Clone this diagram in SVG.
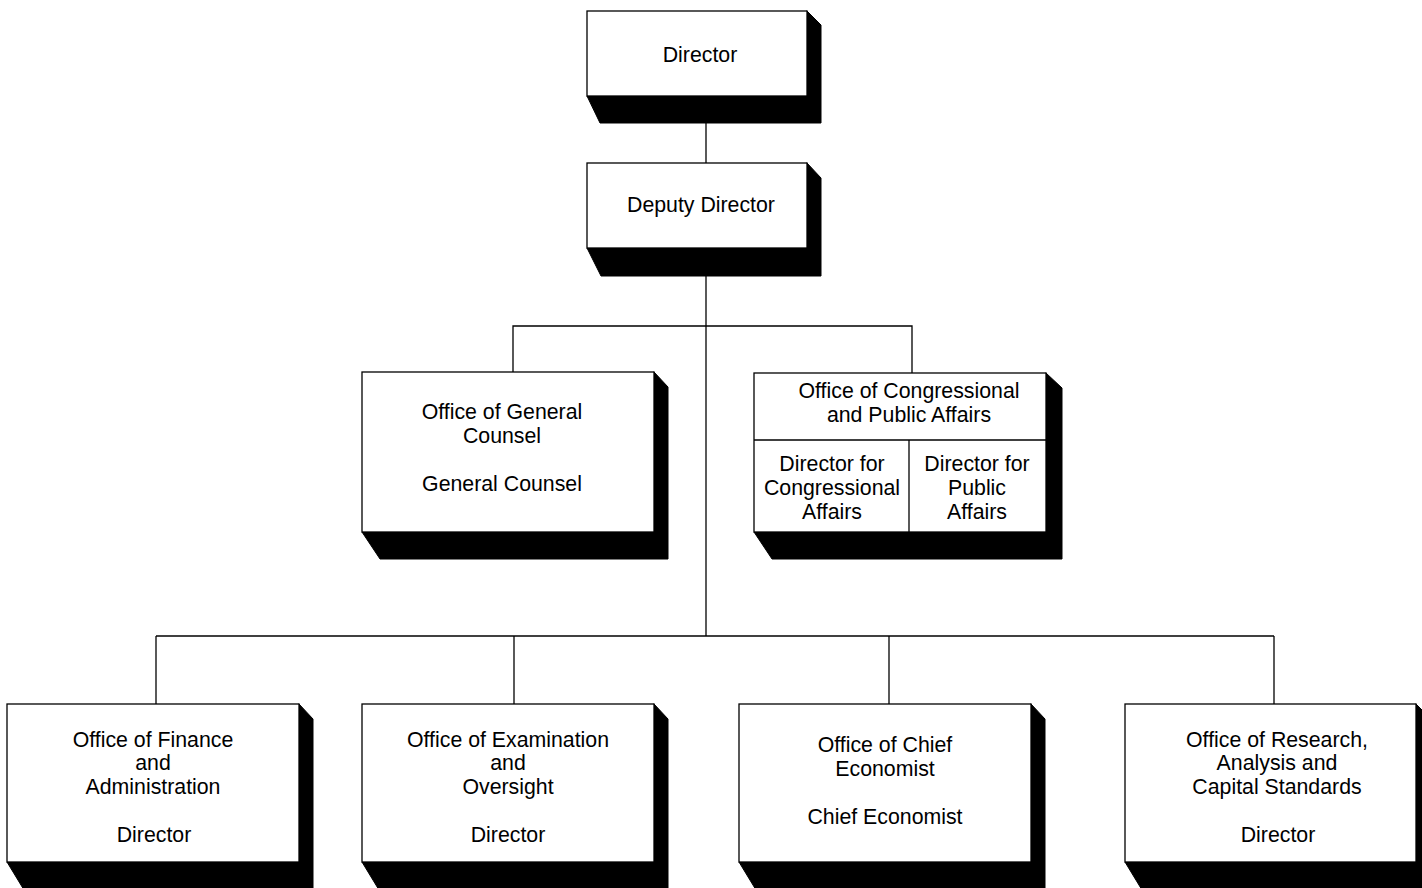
<svg xmlns="http://www.w3.org/2000/svg" width="1422" height="888" viewBox="0 0 1422 888">
<style>
.box{fill:#fff;stroke:#000;stroke-width:1.3}
.sh{fill:#000;stroke:#000;stroke-width:1}
.ln{stroke:#000;stroke-width:1.3;fill:none}
text{font-family:"Liberation Sans",Arial,sans-serif;font-size:21.3px;fill:#000;text-anchor:middle}
</style>
<rect width="1422" height="888" fill="#fff"/>
<g id="connectors">
<line class="ln" x1="706" y1="123" x2="706" y2="163"/>
<line class="ln" x1="706" y1="276" x2="706" y2="636"/>
<polyline class="ln" points="513,372 513,326 912,326 912,373"/>
<line class="ln" x1="156" y1="636" x2="1274" y2="636"/>
<line class="ln" x1="156" y1="636" x2="156" y2="704"/>
<line class="ln" x1="514" y1="636" x2="514" y2="704"/>
<line class="ln" x1="889" y1="636" x2="889" y2="704"/>
<line class="ln" x1="1274" y1="636" x2="1274" y2="704"/>
</g>
<g id="director">
<polygon class="sh" points="807,11 821,25 821,123 600,123 587,96"/>
<rect class="box" x="587" y="11" width="220" height="85"/>
<text x="700" y="61.5">Director</text>
</g>
<g id="deputy">
<polygon class="sh" points="807,163 821,178 821,276 601,276 587,248"/>
<rect class="box" x="587" y="163" width="220" height="85"/>
<text x="701" y="211.5">Deputy Director</text>
</g>
<g id="general-counsel">
<polygon class="sh" points="654,372 668,387 668,559 380,559 362,532"/>
<rect class="box" x="362" y="372" width="292" height="160"/>
<text x="502" y="419">Office of General</text>
<text x="502" y="443">Counsel</text>
<text x="502" y="491">General Counsel</text>
</g>
<g id="congressional">
<polygon class="sh" points="1046,373 1062,388 1062,559 772,559 754,532"/>
<rect class="box" x="754" y="373" width="292" height="159"/>
<line class="ln" x1="754" y1="440" x2="1046" y2="440"/>
<line class="ln" x1="909" y1="440" x2="909" y2="532"/>
<text x="909" y="398">Office of Congressional</text>
<text x="909" y="422">and Public Affairs</text>
<text x="832" y="471">Director for</text>
<text x="832" y="495">Congressional</text>
<text x="832" y="519">Affairs</text>
<text x="977" y="471">Director for</text>
<text x="977" y="495">Public</text>
<text x="977" y="519">Affairs</text>
</g>
<g id="finance">
<polygon class="sh" points="299,704 313,719 313,890 24,890 7,862"/>
<rect class="box" x="7" y="704" width="292" height="158"/>
<text x="153" y="747">Office of Finance</text>
<text x="153" y="770">and</text>
<text x="153" y="794">Administration</text>
<text x="154" y="842">Director</text>
</g>
<g id="examination">
<polygon class="sh" points="654,704 668,719 668,890 379,890 362,862"/>
<rect class="box" x="362" y="704" width="292" height="158"/>
<text x="508" y="747">Office of Examination</text>
<text x="508" y="770">and</text>
<text x="508" y="794">Oversight</text>
<text x="508" y="842">Director</text>
</g>
<g id="economist">
<polygon class="sh" points="1031,704 1045,719 1045,890 756,890 739,862"/>
<rect class="box" x="739" y="704" width="292" height="158"/>
<text x="885" y="752">Office of Chief</text>
<text x="885" y="776">Economist</text>
<text x="885" y="824">Chief Economist</text>
</g>
<g id="research">
<polygon class="sh" points="1416,704 1422,710 1422,890 1142,890 1125,862"/>
<rect class="box" x="1125" y="704" width="291" height="158"/>
<text x="1277" y="747">Office of Research,</text>
<text x="1277" y="770">Analysis and</text>
<text x="1277" y="794">Capital Standards</text>
<text x="1278" y="842">Director</text>
</g>
</svg>
